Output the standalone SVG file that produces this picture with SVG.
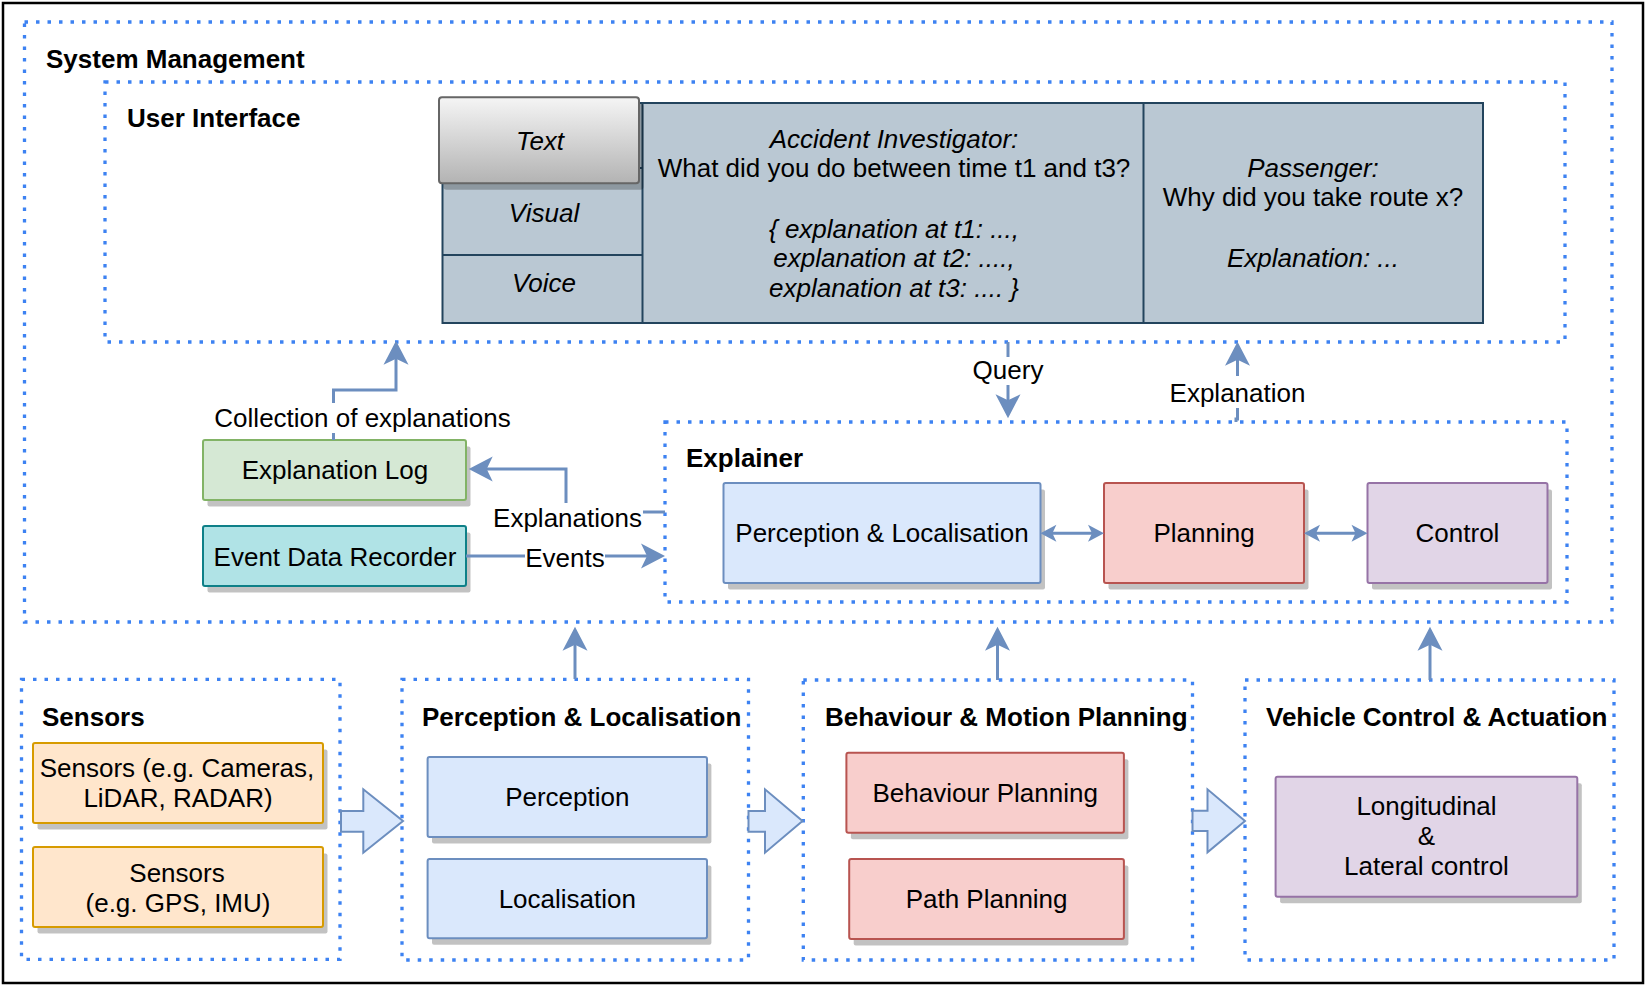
<svg xmlns="http://www.w3.org/2000/svg" width="1646" height="986" viewBox="0 0 1646 986">
<style>
.dot{fill:none;stroke:#3d82f2;stroke-width:3.3;stroke-dasharray:3.5 8}
.t{font-family:"Liberation Sans",Arial,Helvetica,sans-serif;font-size:26px;fill:#000}
.b{font-weight:bold}
.i{font-style:italic}
.m{text-anchor:middle}
.sh{fill:#000;fill-opacity:0.24}
.conn{fill:none;stroke:#6c8ebf;stroke-width:3}
.bg{fill:#fff}
.blue{fill:#dae8fc;stroke:#6c8ebf;stroke-width:2}
.red{fill:#f8cecc;stroke:#b85450;stroke-width:2}
.purple{fill:#e1d5e7;stroke:#9673a6;stroke-width:2}
.orange{fill:#ffe6cc;stroke:#d79b00;stroke-width:2}
.green{fill:#d5e8d4;stroke:#82b366;stroke-width:2}
.teal{fill:#b0e3e6;stroke:#0e8088;stroke-width:2}
.tbl{fill:#bac8d3;stroke:#23445d;stroke-width:2}
.tl{stroke:#23445d;stroke-width:2}
.barrow{fill:#dae8fc;stroke:#6c8ebf;stroke-width:2;stroke-linejoin:miter}
</style>
<defs>
<linearGradient id="gradText" x1="0" y1="0" x2="0" y2="1">
<stop offset="0" stop-color="#f5f5f5"/>
<stop offset="1" stop-color="#b3b3b3"/>
</linearGradient>
<marker id="arr" markerUnits="userSpaceOnUse" markerWidth="34" markerHeight="28" refX="24" refY="13" orient="auto">
<path d="M30,13 L6,0.5 L12,13 L6,25.5 Z" fill="#6c8ebf"/>
</marker>
<marker id="arrS" markerUnits="userSpaceOnUse" markerWidth="24" markerHeight="20" refX="16" refY="9" orient="auto-start-reverse">
<path d="M20,9 L4,0.5 L8,9 L4,17.5 Z" fill="#6c8ebf"/>
</marker>
</defs>
<rect width="1646" height="986" fill="#fff"/>
<rect x="3" y="3" width="1640" height="980" fill="none" stroke="#000" stroke-width="2.5"/>

<g id="system-management">
<rect class="dot" x="24.5" y="22" width="1587.5" height="600"/>
<text class="t b" x="46" y="68">System Management</text>
</g>

<g id="user-interface">
<rect class="dot" x="105" y="82" width="1460" height="260"/>
<text class="t b" x="127" y="127">User Interface</text>
</g>

<g id="ui-table">
<rect class="tbl" x="442.5" y="103" width="1040.5" height="220"/>
<line class="tl" x1="642.5" y1="103" x2="642.5" y2="323"/>
<line class="tl" x1="1143.5" y1="103" x2="1143.5" y2="323"/>
<line class="tl" x1="442.5" y1="168" x2="642.5" y2="168"/>
<line class="tl" x1="442.5" y1="255" x2="642.5" y2="255"/>
<text class="t i m" x="544" y="221.7">Visual</text>
<text class="t i m" x="544" y="291.7">Voice</text>
<text class="t i m" x="894" y="147.7">Accident Investigator:</text>
<text class="t m" x="894" y="177">What did you do between time t1 and t3?</text>
<text class="t i m" x="894" y="237.5">{ explanation at t1: ...,</text>
<text class="t i m" x="894" y="267">explanation at t2: ....,</text>
<text class="t i m" x="894" y="296.7">explanation at t3: .... }</text>
<text class="t i m" x="1313" y="176.7">Passenger:</text>
<text class="t m" x="1313" y="205.5">Why did you take route x?</text>
<text class="t i m" x="1313" y="266.5">Explanation: ...</text>
</g>

<g id="text-tab">
<rect class="sh" x="443.5" y="103.8" width="200" height="86" rx="3"/>
<rect x="439" y="97.3" width="200" height="86" rx="3" fill="url(#gradText)" stroke="#666" stroke-width="2"/>
<text class="t i m" x="540" y="150">Text</text>
</g>

<g id="explanation-log">
<rect class="sh" x="207.5" y="446.5" width="263" height="60" rx="2"/>
<rect class="green" x="203" y="440" width="263" height="60" rx="2"/>
<text class="t m" x="335" y="479">Explanation Log</text>
</g>

<g id="event-data-recorder">
<rect class="sh" x="207.5" y="532.5" width="263" height="60" rx="2"/>
<rect class="teal" x="203" y="526" width="263" height="60" rx="2"/>
<text class="t m" x="335" y="565.5">Event Data Recorder</text>
</g>

<g id="explainer">
<rect class="dot" x="665" y="422" width="902" height="180"/>
<text class="t b" x="686" y="467">Explainer</text>
</g>

<g id="explainer-perception">
<rect class="sh" x="728" y="489.5" width="317" height="100" rx="2"/>
<rect class="blue" x="723.5" y="483" width="317" height="100" rx="2"/>
<text class="t m" x="882" y="542">Perception &amp; Localisation</text>
</g>

<g id="explainer-planning">
<rect class="sh" x="1108.5" y="489.5" width="200" height="100" rx="2"/>
<rect class="red" x="1104" y="483" width="200" height="100" rx="2"/>
<text class="t m" x="1204" y="542">Planning</text>
</g>

<g id="explainer-control">
<rect class="sh" x="1372" y="489.5" width="180" height="100" rx="2"/>
<rect class="purple" x="1367.5" y="483" width="180" height="100" rx="2"/>
<text class="t m" x="1457.5" y="542">Control</text>
</g>

<g id="sensors">
<rect class="dot" x="21.5" y="679.3" width="318.5" height="280"/>
<text class="t b" x="42" y="726">Sensors</text>
</g>

<g id="sensors-cameras">
<rect class="sh" x="37.5" y="749.5" width="290" height="80" rx="2"/>
<rect class="orange" x="33" y="743" width="290" height="80" rx="2"/>
<text class="t m" x="177" y="777.3">Sensors (e.g. Cameras,</text>
<text class="t m" x="178" y="807.3">LiDAR, RADAR)</text>
</g>

<g id="sensors-gps">
<rect class="sh" x="37.5" y="853.5" width="290" height="80" rx="2"/>
<rect class="orange" x="33" y="847" width="290" height="80" rx="2"/>
<text class="t m" x="177" y="881.5">Sensors</text>
<text class="t m" x="178" y="911.5">(e.g. GPS, IMU)</text>
</g>

<g id="perception-localisation">
<rect class="dot" x="402" y="679.3" width="346.5" height="280.7"/>
<text class="t b" x="422" y="726">Perception &amp; Localisation</text>
</g>

<g id="perception">
<rect class="sh" x="432" y="763.5" width="279.4" height="80" rx="2"/>
<rect class="blue" x="427.6" y="757" width="279.4" height="80" rx="2"/>
<text class="t m" x="567.3" y="806.3">Perception</text>
</g>

<g id="localisation">
<rect class="sh" x="432" y="865.5" width="279.4" height="79.3" rx="2"/>
<rect class="blue" x="427.6" y="859" width="279.4" height="79.3" rx="2"/>
<text class="t m" x="567.3" y="908">Localisation</text>
</g>

<g id="behaviour-motion-planning">
<rect class="dot" x="803.3" y="680" width="389.2" height="280"/>
<text class="t b" x="825" y="725.5">Behaviour &amp; Motion Planning</text>
</g>

<g id="behaviour-planning">
<rect class="sh" x="850.9" y="759.2" width="277.5" height="80" rx="2"/>
<rect class="red" x="846.4" y="752.7" width="277.5" height="80" rx="2"/>
<text class="t m" x="985.2" y="802">Behaviour Planning</text>
</g>

<g id="path-planning">
<rect class="sh" x="853.7" y="865.5" width="274.7" height="80" rx="2"/>
<rect class="red" x="849.2" y="859" width="274.7" height="80" rx="2"/>
<text class="t m" x="986.6" y="907.5">Path Planning</text>
</g>

<g id="vehicle-control-actuation">
<rect class="dot" x="1245" y="680" width="369" height="280"/>
<text class="t b" x="1266" y="725.5">Vehicle Control &amp; Actuation</text>
</g>

<g id="longitudinal-lateral">
<rect class="sh" x="1280.1" y="783.2" width="301.7" height="120" rx="2"/>
<rect class="purple" x="1275.6" y="776.7" width="301.7" height="120" rx="2"/>
<text class="t m" x="1426.5" y="815">Longitudinal</text>
<text class="t m" x="1426.5" y="845">&amp;</text>
<text class="t m" x="1426.5" y="875">Lateral control</text>
</g>

<g id="connectors">
<path class="conn" d="M1008,342 L1008,412.3" marker-end="url(#arr)"/>
<rect class="bg" x="970" y="357" width="76" height="28"/>
<text class="t m" x="1008" y="378.5">Query</text>

<path class="conn" d="M1236,422 L1236,419 L1237.5,419 L1237.5,347.7" marker-end="url(#arr)"/>
<rect class="bg" x="1167" y="376" width="141" height="32"/>
<text class="t m" x="1237.5" y="401.7">Explanation</text>

<path class="conn" d="M333.5,440 L333.5,390 L396,390 L396,346.8" marker-end="url(#arr)"/>
<rect class="bg" x="213" y="403" width="299" height="30"/>
<text class="t m" x="362.5" y="427">Collection of explanations</text>

<path class="conn" d="M665,512 L566,512 L566,469 L474.7,469" marker-end="url(#arr)"/>
<rect class="bg" x="492" y="503" width="151" height="30"/>
<text class="t m" x="567.5" y="527.3">Explanations</text>

<path class="conn" d="M466,556 L659,556" marker-end="url(#arr)"/>
<rect class="bg" x="525" y="543" width="80" height="30"/>
<text class="t m" x="565" y="566.7">Events</text>

<path class="conn" d="M1044.4,533.3 L1100,533.3" marker-start="url(#arrS)" marker-end="url(#arrS)"/>
<path class="conn" d="M1308,533.3 L1363.5,533.3" marker-start="url(#arrS)" marker-end="url(#arrS)"/>

<path class="conn" d="M575,679 L575,632.7" marker-end="url(#arr)"/>
<path class="conn" d="M997.5,680 L997.5,632.7" marker-end="url(#arr)"/>
<path class="conn" d="M1430,680 L1430,632.7" marker-end="url(#arr)"/>

<polygon class="barrow" points="341,811 363.3,811 363.3,789.3 403,821 363.3,852.7 363.3,831.7 341,831.7"/>
<polygon class="barrow" points="748.5,811 765,811 765,789.3 802.5,821 765,852.7 765,831.7 748.5,831.7"/>
<polygon class="barrow" points="1192.5,810.7 1207.5,810.7 1207.5,789.3 1245,821 1207.5,852.3 1207.5,831 1192.5,831"/>
</g>
</svg>
